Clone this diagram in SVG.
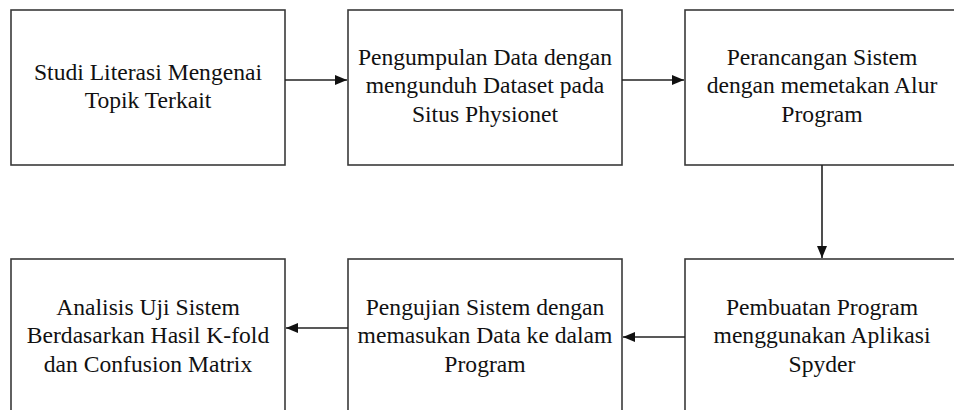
<svg xmlns="http://www.w3.org/2000/svg" width="954" height="410" viewBox="0 0 954 410">
<style>
.box{fill:#fff;stroke:#3a3a3a;stroke-width:1.6}
.t{font-family:'Liberation Serif','Times New Roman',serif;font-size:23.6px;fill:#111;text-anchor:middle}
.c{stroke:#222;stroke-width:1.6;fill:none}
</style>
<defs>
<marker id="ah" markerUnits="userSpaceOnUse" markerWidth="13" markerHeight="11" refX="12" refY="5" orient="auto">
<path d="M0,0 L12,5 L0,10 z" fill="#111"/>
</marker>
</defs>
<rect width="954" height="410" fill="#fff"/>
<g id="n1"><rect class="box" x="11" y="10" width="274" height="155"/>
<text class="t" x="148" y="80">Studi Literasi Mengenai</text><text class="t" x="148" y="108">Topik Terkait</text></g>
<g id="n2"><rect class="box" x="348" y="10" width="274" height="155"/>
<text class="t" x="485" y="65">Pengumpulan Data dengan</text><text class="t" x="485" y="93">mengunduh Dataset pada</text><text class="t" x="485" y="122">Situs Physionet</text></g>
<g id="n3"><rect class="box" x="685" y="10" width="274" height="155"/>
<text class="t" x="822" y="65">Perancangan Sistem</text><text class="t" x="822" y="93">dengan memetakan Alur</text><text class="t" x="822" y="122">Program</text></g>
<g id="n4"><rect class="box" x="685" y="259" width="274" height="160"/>
<text class="t" x="822" y="315">Pembuatan Program</text><text class="t" x="822" y="343">menggunakan Aplikasi</text><text class="t" x="822" y="372">Spyder</text></g>
<g id="n5"><rect class="box" x="348" y="259" width="274" height="160"/>
<text class="t" x="485" y="315">Pengujian Sistem dengan</text><text class="t" x="485" y="343">memasukan Data ke dalam</text><text class="t" x="485" y="372">Program</text></g>
<g id="n6"><rect class="box" x="11" y="259" width="274" height="160"/>
<text class="t" x="148" y="315">Analisis Uji Sistem</text><text class="t" x="148" y="343">Berdasarkan Hasil K-fold</text><text class="t" x="148" y="372">dan Confusion Matrix</text></g>
<g id="connectors">
<line class="c" x1="285" y1="80" x2="347" y2="80" marker-end="url(#ah)"/>
<line class="c" x1="622" y1="80" x2="684" y2="80" marker-end="url(#ah)"/>
<line class="c" x1="822" y1="165" x2="822" y2="258" marker-end="url(#ah)"/>
<line class="c" x1="685" y1="337" x2="623" y2="337" marker-end="url(#ah)"/>
<line class="c" x1="348" y1="328" x2="286" y2="328" marker-end="url(#ah)"/>
</g>
</svg>
